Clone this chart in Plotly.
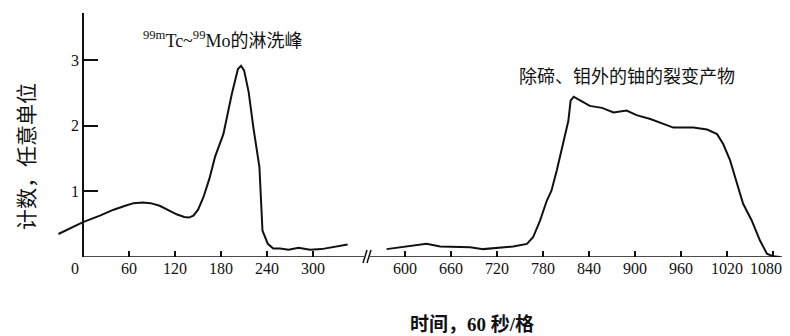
import plotly.graph_objects as go

# ---- data (time in seconds, counts in arbitrary units) ----
time_left = [-32, -15, 0, 22, 40, 55, 66, 78, 88, 100, 112, 122, 132, 138, 144, 150,
             157, 165, 172, 183, 194, 202, 206, 210, 216, 222, 230, 234, 241, 248,
             257, 268, 281, 296, 311, 329, 345]
counts_left = [0.35, 0.44, 0.53, 0.63, 0.72, 0.78, 0.82, 0.83, 0.82, 0.78, 0.71, 0.65,
               0.61, 0.60, 0.63, 0.72, 0.91, 1.20, 1.52, 1.87, 2.48, 2.86, 2.91, 2.84,
               2.51, 1.98, 1.37, 0.40, 0.20, 0.13, 0.13, 0.11, 0.14, 0.11, 0.12, 0.16, 0.19]

time_right = [576, 594, 611, 628, 646, 667, 685, 702, 720, 741, 759, 767, 776, 785,
              791, 798, 806, 813, 816, 820, 826, 833, 841, 857, 872, 889, 902, 920,
              937, 950, 963, 976, 994, 1007, 1015, 1024, 1033, 1041, 1052, 1063,
              1072, 1080, 1089]
counts_right = [0.12, 0.15, 0.17, 0.20, 0.16, 0.15, 0.15, 0.12, 0.14, 0.16, 0.20, 0.30,
                0.55, 0.86, 1.01, 1.32, 1.72, 2.07, 2.38, 2.44, 2.40, 2.35, 2.30, 2.27,
                2.20, 2.23, 2.16, 2.10, 2.02, 1.97, 1.97, 1.97, 1.94, 1.87, 1.72, 1.47,
                1.12, 0.81, 0.56, 0.25, 0.05, 0.01, 0.0]

ticks_left = [0, 60, 120, 180, 240, 300]
ticks_right = [600, 660, 720, 780, 840, 900, 960, 1020, 1080]
ticks_y = [1, 2, 3]

label_left = "<sup>99m</sup>Tc~<sup>99</sup>Mo的淋洗峰"
label_right = "除碲、钼外的铀的裂变产物"
x_title = "时间，60 秒/格"
y_title = "计数，任意单位"

INK = "#111111"
SERIF = "Liberation Serif, 'Noto Sans CJK SC', serif"
CJK = "'Noto Sans CJK SC', sans-serif"

# the first label sits slightly left of its tick in the original
PAD = "\u2002\u2002"
text_left = [str(v) + (PAD if v == ticks_left[0] else "") for v in ticks_left]
# the last label on the right is drawn separately (shifted left, like the original)
text_right = [str(v) if v != ticks_right[-1] else "" for v in ticks_right]

fig = go.Figure()
fig.add_trace(go.Scatter(x=time_left, y=counts_left, mode="lines",
                         line=dict(color=INK, width=2), xaxis="x", yaxis="y",
                         showlegend=False))
fig.add_trace(go.Scatter(x=time_right, y=counts_right, mode="lines",
                         line=dict(color=INK, width=2), xaxis="x2", yaxis="y",
                         showlegend=False))

# the page body adds an 8px offset; lay out in page pixels and convert
OFF = 8
W, H = 790 - OFF, 336 - OFF
PL, PR, PT, PB = 56, 784, 13, 257          # plot area in page pixels
ML, MT = PL - OFF, PT - OFF
MR = W - (PR - OFF)
MB = H - (PB - OFF)
PW = W - ML - MR
PH = H - MT - MB


def px(xp):
    return (xp - PL) / PW


def py(yp):
    return (PB - yp) / PH


axis_font = dict(family=SERIF, size=16, color=INK)
common_x = dict(ticks="inside", ticklen=6, tickcolor=INK, tickwidth=1.5,
                showgrid=False, zeroline=False, showline=False, automargin=False,
                ticklabeloverflow="allow", tickfont=axis_font, anchor="y")

fig.update_layout(
    width=W, height=H,
    margin=dict(l=ML, r=MR, t=MT, b=MB, autoexpand=False),
    paper_bgcolor="white", plot_bgcolor="white",
    xaxis=dict(domain=[0, px(352)], range=[-35.2, 350.7], tickvals=ticks_left,
               ticktext=text_left, **common_x),
    xaxis2=dict(domain=[px(383), 1], range=[571.3, 1094.3], tickvals=ticks_right,
                ticktext=text_right, **common_x),
    yaxis=dict(range=[0, PH / 65.7], tickvals=ticks_y, ticks="inside", ticklen=14,
               tickcolor=INK, tickwidth=1.5, showgrid=False, zeroline=False,
               showline=True, linecolor=INK, linewidth=1.5, automargin=False,
               anchor="free", position=px(83), tickfont=axis_font),
)

fig.add_annotation(text=str(ticks_right[-1]), xref="x2", yref="paper",
                   x=ticks_right[-1], y=py(268), xanchor="center", yanchor="middle",
                   xshift=-7, showarrow=False, font=axis_font)

# baseline segments with the axis break
fig.add_shape(type="line", xref="paper", yref="y", x0=px(83), x1=px(364), y0=0, y1=0,
              line=dict(color=INK, width=1.5))
fig.add_shape(type="line", xref="paper", yref="y", x0=px(370), x1=px(782), y0=0, y1=0,
              line=dict(color=INK, width=1.5))
for dx in (0, 4):
    fig.add_shape(type="line", xref="paper", yref="paper",
                  x0=px(363 + dx), y0=py(263), x1=px(367 + dx), y1=py(250),
                  line=dict(color=INK, width=1.5))

fig.add_annotation(text=label_left, xref="paper", yref="paper", x=px(222), y=py(40),
                   xanchor="center", yanchor="middle", showarrow=False,
                   font=dict(family=SERIF, size=18, color=INK))
fig.add_annotation(text=label_right, xref="paper", yref="paper", x=px(627), y=py(77),
                   xanchor="center", yanchor="middle", showarrow=False,
                   font=dict(family=SERIF, size=18, color=INK))
fig.add_annotation(text="<b>" + x_title + "</b>", xref="paper", yref="paper",
                   x=px(472), y=py(324), xanchor="center", yanchor="middle",
                   showarrow=False, font=dict(family=SERIF, size=19, color=INK))
fig.add_annotation(text=y_title, xref="paper", yref="paper", x=px(25), y=py(157),
                   xanchor="center", yanchor="middle", textangle=-90, showarrow=False,
                   font=dict(family=CJK, size=21, color=INK))

fig.write_html("out.html")
